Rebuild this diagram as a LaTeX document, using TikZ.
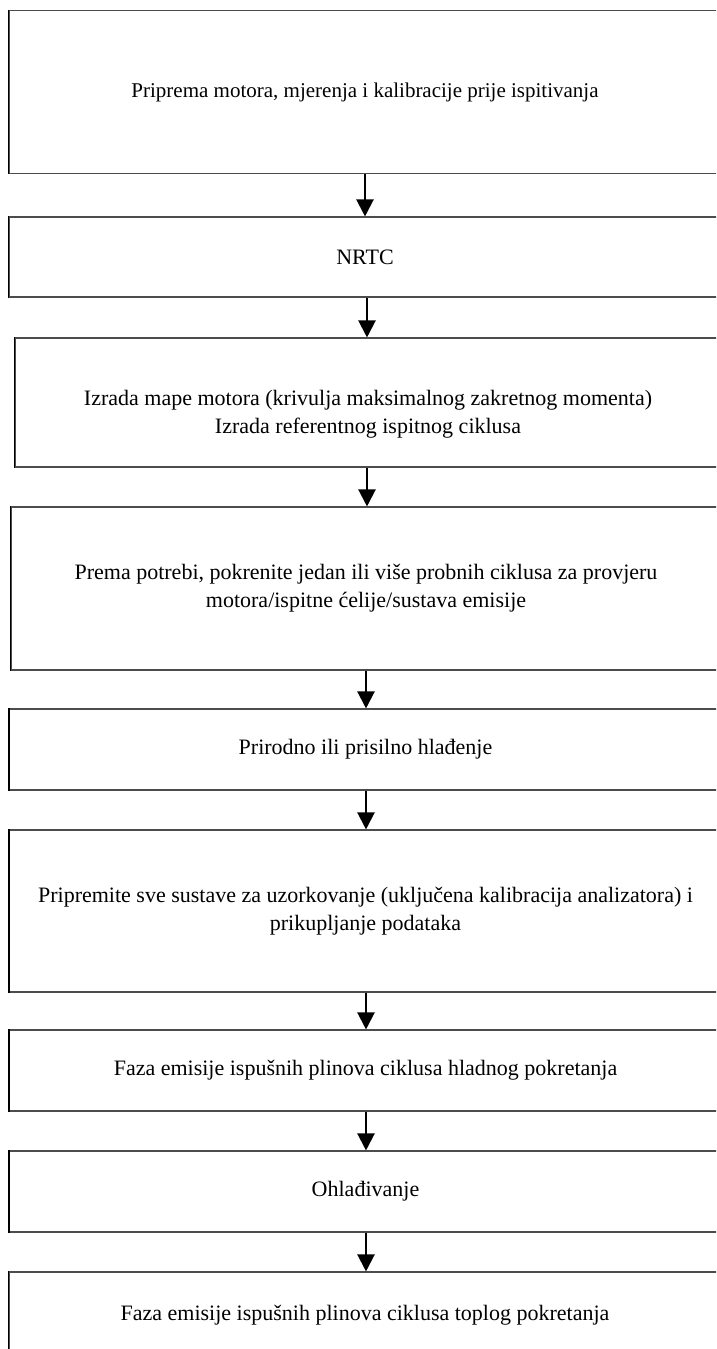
\documentclass[tikz,border=0pt]{standalone}
\usepackage{fontspec}
\setmainfont{Liberation Serif}
\usetikzlibrary{arrows.meta}
\begin{document}
\begin{tikzpicture}[x=1pt,y=-1pt,
  stepbox/.style={draw=black!70, line width=1.1pt, inner sep=0pt,
    minimum width=712pt, align=center, font=\fontsize{22}{28}\selectfont},
  steptext/.style={inner sep=0pt, align=center, font=\fontsize{22}{28}\selectfont},
  flow/.style={line width=2.2pt, -{Triangle[width=17pt,length=17pt]}}]
\useasboundingbox (0,0) rectangle (716,1349);
\clip (0,0) rectangle (716,1349);

\node[stepbox, minimum height=163pt, font=\fontsize{21}{27}\selectfont] (b1) at (365,92)
  {Priprema motora, mjerenja i kalibracije prije ispitivanja};
\node[stepbox, minimum height=80pt] (b2) at (365,257) {NRTC};
\node[stepbox, minimum height=129pt, minimum width=706pt] (b3) at (368,402.5) {};
\node[steptext] (t3) at (368,414)
  {Izrada mape motora (krivulja maksimalnog zakretnog momenta)\\
   Izrada referentnog ispitnog ciklusa};
\node[stepbox, minimum height=163pt, minimum width=710pt] (b4) at (366,588.5)
  {Prema potrebi, pokrenite jedan ili više probnih ciklusa za provjeru\\
   motora/ispitne ćelije/sustava emisije};
\node[stepbox, minimum height=81pt] (b5) at (365.5,749.5)
  {Prirodno ili prisilno hlađenje};
\node[stepbox, minimum height=162pt] (b6) at (365.5,911)
  {Pripremite sve sustave za uzorkovanje (uključena kalibracija analizatora) i\\
   prikupljanje podataka};
\node[stepbox, minimum height=81pt] (b7) at (365.5,1070.5)
  {Faza emisije ispušnih plinova ciklusa hladnog pokretanja};
\node[stepbox, minimum height=81pt] (b8) at (365.5,1191.5)
  {Ohlađivanje};
\node[stepbox, minimum height=86pt] (b9) at (365,1315)
  {Faza emisije ispušnih plinova ciklusa toplog pokretanja};

% heavier left edges
\foreach \b in {b1,b2,b3,b4,b5,b6,b7,b8,b9}
  \draw[line width=1.8pt] (\b.north west) -- (\b.south west);

% connectors
\draw[flow] (b1.south -| 365,0) -- (b2.north -| 365,0);
\draw[flow] (b2.south -| 367,0) -- (b3.north -| 367,0);
\draw[flow] (b3.south -| 367,0) -- (b4.north -| 367,0);
\draw[flow] (b4.south -| 366,0) -- (b5.north -| 366,0);
\draw[flow] (b5.south -| 366,0) -- (b6.north -| 366,0);
\draw[flow] (b6.south -| 366,0) -- (b7.north -| 366,0);
\draw[flow] (b7.south -| 366,0) -- (b8.north -| 366,0);
\draw[flow] (b8.south -| 366,0) -- (b9.north -| 366,0);
\end{tikzpicture}
\end{document}
